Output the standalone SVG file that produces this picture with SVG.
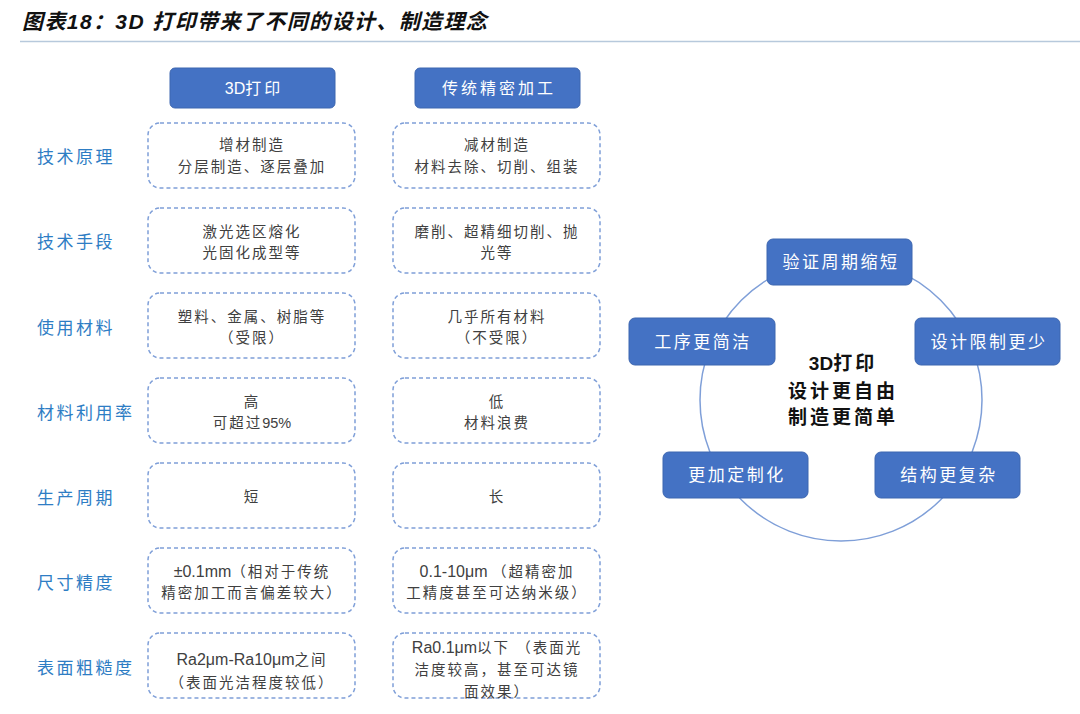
<svg xmlns="http://www.w3.org/2000/svg" width="1080" height="714" viewBox="0 0 1080 714">
<style>
.title{font-family:"Liberation Sans","Noto Sans CJK SC",sans-serif;font-size:21px;font-weight:bold;font-style:italic;fill:#111;letter-spacing:1.4px}
.hdr{fill:#4472c4;stroke:#3d66b0;stroke-width:1}
.hdrt{font-family:"Liberation Sans","Noto Sans CJK SC",sans-serif;font-size:16px;fill:#fff;text-anchor:middle;letter-spacing:3px}
.lbl{font-family:"Noto Sans CJK SC",sans-serif;font-size:17px;fill:#2e7dc4;letter-spacing:2.5px}
.dbox{fill:none;stroke:#7f9fd8;stroke-width:1.5;stroke-dasharray:4 3}
.bt{font-family:"Liberation Sans","Noto Sans CJK SC",sans-serif;font-size:14.5px;fill:#404040;text-anchor:middle;letter-spacing:2px}
.lat{letter-spacing:0;font-size:16px}
.cbox{fill:#4472c4;stroke:#3d66b0;stroke-width:1}
.ct{font-family:"Noto Sans CJK SC",sans-serif;font-size:17px;fill:#fff;text-anchor:middle;letter-spacing:2.5px}
.center{font-family:"Liberation Sans","Noto Sans CJK SC",sans-serif;font-size:19px;font-weight:bold;fill:#111;text-anchor:middle;letter-spacing:3px}
</style>
<rect width="1080" height="714" fill="#ffffff"/>
<text class="title" x="22" y="29">图表18：3D 打印带来了不同的设计、制造理念</text>
<line x1="20" y1="41.5" x2="1080" y2="41.5" stroke="#b7c9dc" stroke-width="1.5"/>

<g id="hdr-3d"><rect class="hdr" x="170" y="68" width="165" height="40" rx="5"/><text class="hdrt" x="254" y="94"><tspan style="letter-spacing:0">3D</tspan>打印</text></g>
<g id="hdr-trad"><rect class="hdr" x="415" y="68" width="165" height="40" rx="5"/><text class="hdrt" x="499" y="94">传统精密加工</text></g>

<g id="labels">
<text class="lbl" x="37" y="163">技术原理</text>
<text class="lbl" x="37" y="248">技术手段</text>
<text class="lbl" x="37" y="334">使用材料</text>
<text class="lbl" x="37" y="419">材料利用率</text>
<text class="lbl" x="37" y="504">生产周期</text>
<text class="lbl" x="37" y="589">尺寸精度</text>
<text class="lbl" x="37" y="674">表面粗糙度</text>
</g>

<g id="r1l"><rect class="dbox" x="148" y="123" width="207" height="65" rx="12"/><text class="bt" x="252" y="150">增材制造</text><text class="bt" x="252" y="172">分层制造、逐层叠加</text></g>
<g id="r1r"><rect class="dbox" x="393" y="123" width="207" height="65" rx="12"/><text class="bt" x="497" y="150">减材制造</text><text class="bt" x="497" y="172">材料去除、切削、组装</text></g>

<g id="r2l"><rect class="dbox" x="148" y="208" width="207" height="65" rx="12"/><text class="bt" x="252" y="237">激光选区熔化</text><text class="bt" x="252" y="258">光固化成型等</text></g>
<g id="r2r"><rect class="dbox" x="393" y="208" width="207" height="65" rx="12"/><text class="bt" x="497" y="237">磨削、超精细切削、抛</text><text class="bt" x="497" y="258">光等</text></g>

<g id="r3l"><rect class="dbox" x="148" y="293" width="207" height="65" rx="12"/><text class="bt" x="252" y="322">塑料、金属、树脂等</text><text class="bt" x="252" y="343">（受限）</text></g>
<g id="r3r"><rect class="dbox" x="393" y="293" width="207" height="65" rx="12"/><text class="bt" x="497" y="322">几乎所有材料</text><text class="bt" x="497" y="343">（不受限）</text></g>

<g id="r4l"><rect class="dbox" x="148" y="378" width="207" height="65" rx="12"/><text class="bt" x="252" y="407">高</text><text class="bt" x="252" y="428">可超过<tspan style="letter-spacing:0">95%</tspan></text></g>
<g id="r4r"><rect class="dbox" x="393" y="378" width="207" height="65" rx="12"/><text class="bt" x="497" y="407">低</text><text class="bt" x="497" y="428">材料浪费</text></g>

<g id="r5l"><rect class="dbox" x="148" y="463" width="207" height="65" rx="12"/><text class="bt" x="252" y="502">短</text></g>
<g id="r5r"><rect class="dbox" x="393" y="463" width="207" height="65" rx="12"/><text class="bt" x="497" y="502">长</text></g>

<g id="r6l"><rect class="dbox" x="148" y="548" width="207" height="65" rx="12"/><text class="bt" x="252" y="577"><tspan class="lat">±0.1mm</tspan>（相对于传统</text><text class="bt" x="252" y="598">精密加工而言偏差较大）</text></g>
<g id="r6r"><rect class="dbox" x="393" y="548" width="207" height="65" rx="12"/><text class="bt" x="497" y="577"><tspan class="lat">0.1-10μm </tspan>（超精密加</text><text class="bt" x="497" y="598">工精度甚至可达纳米级）</text></g>

<g id="r7l"><rect class="dbox" x="148" y="633" width="207" height="65" rx="12"/><text class="bt" x="252" y="665"><tspan class="lat">Ra2μm-Ra10μm</tspan>之间</text><text class="bt" x="252" y="688">（表面光洁程度较低）</text></g>
<g id="r7r"><rect class="dbox" x="393" y="633" width="207" height="65" rx="12"/><text class="bt" x="497" y="653"><tspan class="lat">Ra0.1μm</tspan>以下 （表面光</text><text class="bt" x="497" y="675">洁度较高，甚至可达镜</text><text class="bt" x="497" y="697">面效果）</text></g>

<g id="connectors">
<circle cx="841" cy="400" r="141" fill="none" stroke="#7f9fd8" stroke-width="1.5"/>
</g>

<g id="c-top"><rect class="cbox" x="767" y="239" width="145" height="46" rx="6"/><text class="ct" x="841" y="268">验证周期缩短</text></g>
<g id="c-left"><rect class="cbox" x="629" y="318" width="146" height="47" rx="6"/><text class="ct" x="703" y="348">工序更简洁</text></g>
<g id="c-right"><rect class="cbox" x="915" y="318" width="145" height="47" rx="6"/><text class="ct" x="989" y="348">设计限制更少</text></g>
<g id="c-bl"><rect class="cbox" x="663" y="452" width="145" height="46" rx="6"/><text class="ct" x="737" y="481">更加定制化</text></g>
<g id="c-br"><rect class="cbox" x="875" y="452" width="145" height="46" rx="6"/><text class="ct" x="949" y="481">结构更复杂</text></g>

<g id="center">
<text class="center" x="843" y="370"><tspan style="letter-spacing:0">3D</tspan>打印</text>
<text class="center" x="843" y="398">设计更自由</text>
<text class="center" x="843" y="424">制造更简单</text>
</g>
</svg>
